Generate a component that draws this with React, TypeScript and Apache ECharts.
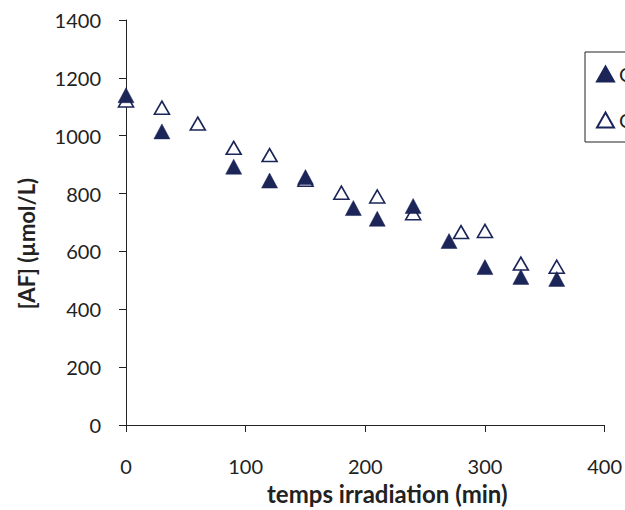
import React, { useEffect, useRef } from "react";
import * as echarts from "echarts";

const timesFilled = [0, 30, 90, 120, 150, 190, 210, 240, 270, 300, 330, 360];
const valuesFilled = [1140, 1015, 893, 845, 857, 750, 713, 757, 636, 546, 512, 505];
const timesHollow = [0, 30, 60, 90, 120, 150, 180, 210, 240, 280, 300, 330, 360];
const valuesHollow = [1122, 1097, 1042, 958, 933, 848, 803, 790, 732, 667, 671, 558, 547];
const seriesNames = ["C1", "C2"];
const xTicks = { min: 0, max: 400, interval: 100 };
const yTicks = { min: 0, max: 1400, interval: 200 };

const NAVY = "#1b2558";
const FONT = "Lato, 'Open Sans', sans-serif";

export default function App() {
  const ref = useRef<HTMLDivElement>(null);
  useEffect(() => {
    if (!ref.current) return;
    const chart = echarts.init(ref.current, undefined, { renderer: "svg" });
    const mk = (xs: number[], ys: number[]) => xs.map((x, i) => [x, ys[i]]);
    chart.setOption({
      animation: false,
      backgroundColor: "#fff",
      textStyle: { fontFamily: FONT },
      grid: { left: 126, right: 19, top: 20, bottom: 84 },
      legend: {
        orient: "vertical",
        left: 585,
        top: 52,
        padding: [12, 8, 12, 11],
        borderColor: "#222",
        borderWidth: 1,
        itemWidth: 17,
        itemHeight: 15,
        itemGap: 26,
        textStyle: { fontSize: 20, color: "#222", lineHeight: 20, fontFamily: FONT },
        data: seriesNames,
      },
      xAxis: {
        type: "value",
        min: xTicks.min,
        max: xTicks.max,
        interval: xTicks.interval,
        name: "temps irradiation (min)",
        nameLocation: "middle",
        nameGap: 56,
        nameTextStyle: { fontSize: 24, fontWeight: "bold", color: "#222", padding: [0, 0, 0, 44], fontFamily: FONT },
        axisLine: { show: true, lineStyle: { color: "#222", width: 1 } },
        axisTick: { show: true, length: 7, lineStyle: { color: "#222" } },
        axisLabel: { fontSize: 20, color: "#222", margin: 31, fontFamily: FONT },
        splitLine: { show: false },
      },
      yAxis: {
        type: "value",
        min: yTicks.min,
        max: yTicks.max,
        interval: yTicks.interval,
        name: "[AF] (µmol/L)",
        nameLocation: "middle",
        nameRotate: 90,
        nameGap: 89,
        nameTextStyle: { fontSize: 22, fontWeight: "bold", color: "#222", padding: [0, 42, 0, 0], fontFamily: FONT },
        axisLine: { show: true, lineStyle: { color: "#222", width: 1 } },
        axisTick: { show: true, length: 7, lineStyle: { color: "#222" } },
        axisLabel: { fontSize: 20, color: "#222", margin: 25, fontFamily: FONT, formatter: (v: number) => String(v) },
        splitLine: { show: false },
      },
      series: [
        {
          name: seriesNames[1],
          type: "scatter",
          symbol: "triangle",
          symbolSize: [15, 13],
          itemStyle: { color: "#fff", borderColor: NAVY, borderWidth: 1.6, opacity: 1 },
          data: mk(timesHollow, valuesHollow),
          z: 2,
        },
        {
          name: seriesNames[0],
          type: "scatter",
          symbol: "triangle",
          symbolSize: [16, 15],
          itemStyle: { color: NAVY, borderColor: NAVY, borderWidth: 0.5, opacity: 1 },
          data: mk(timesFilled, valuesFilled),
          z: 3,
        },
      ],
    });
    return () => chart.dispose();
  }, []);
  return <div ref={ref} style={{ width: 625, height: 510, position: "absolute", left: 0, top: 0 }} />;
}
